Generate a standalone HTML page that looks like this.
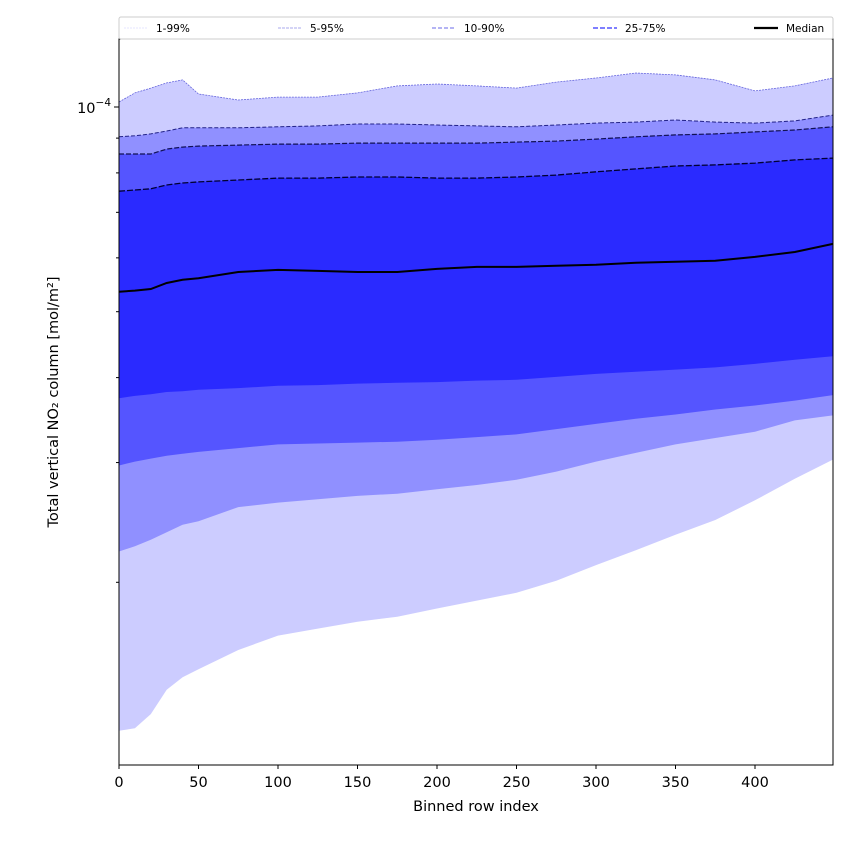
<!DOCTYPE html>
<html><head><meta charset="utf-8"><style>
body{margin:0;background:#fff;font-family:"Liberation Sans","DejaVu Sans",sans-serif}
svg text{font-family:"DejaVu Sans","Liberation Sans",sans-serif}
</style></head><body>
<svg id="chart" width="850" height="850" viewBox="0 0 850 850" xmlns="http://www.w3.org/2000/svg">
<rect width="850" height="850" fill="#fff"/>
<g id="bands"></g>
<g id="lines"></g>
<g id="axes"></g>
<g id="legend"></g>
</svg>
<script>
const rows=[0,10,20,30,40,50,75,100,125,150,175,200,225,250,275,300,325,350,375,400,425,449];
// values in units of 1e-5 mol/m2
const p99=[10.17,10.49,10.66,10.85,10.96,10.45,10.24,10.34,10.34,10.49,10.74,10.81,10.74,10.66,10.88,11.03,11.22,11.15,10.96,10.56,10.74,11.03];
const p95=[9.04,9.07,9.13,9.22,9.32,9.32,9.32,9.35,9.38,9.44,9.44,9.41,9.38,9.35,9.41,9.47,9.50,9.57,9.50,9.47,9.54,9.73];
const p90=[8.53,8.53,8.53,8.67,8.73,8.76,8.79,8.82,8.82,8.85,8.85,8.85,8.85,8.88,8.91,8.97,9.04,9.10,9.13,9.19,9.25,9.35];
const p75=[7.52,7.55,7.58,7.68,7.73,7.76,7.81,7.86,7.86,7.89,7.89,7.86,7.86,7.89,7.94,8.03,8.11,8.19,8.22,8.27,8.36,8.41];
const median=[5.35,5.37,5.40,5.51,5.57,5.60,5.72,5.76,5.74,5.72,5.72,5.78,5.82,5.82,5.84,5.86,5.90,5.92,5.94,6.02,6.12,6.29];
const p25=[3.73,3.76,3.78,3.81,3.82,3.84,3.86,3.89,3.90,3.92,3.93,3.94,3.96,3.97,4.01,4.05,4.08,4.11,4.14,4.19,4.25,4.30];
const p10=[2.97,3.01,3.04,3.07,3.09,3.11,3.15,3.19,3.20,3.21,3.22,3.24,3.27,3.30,3.36,3.42,3.48,3.53,3.59,3.64,3.70,3.77];
const p5=[2.22,2.26,2.31,2.37,2.43,2.46,2.58,2.62,2.65,2.68,2.70,2.74,2.78,2.83,2.91,3.01,3.10,3.19,3.26,3.33,3.46,3.52];
const p1=[1.21,1.22,1.28,1.39,1.45,1.49,1.59,1.67,1.71,1.75,1.78,1.83,1.88,1.93,2.01,2.12,2.23,2.35,2.47,2.64,2.84,3.03];
const xTicks=[0,50,100,150,200,250,300,350,400];
const yMinor=[2,3,4,5,6,7,8,9];

const NS="http://www.w3.org/2000/svg";
const L=119,R=833,T=39,B=765;
const xs=v=>L+(v-0)*(755-119)/400;
const ys=v=>107-Math.log10(v/10)*680;
function mk(tag,attrs,parent){const e=document.createElementNS(NS,tag);for(const k in attrs)e.setAttribute(k,attrs[k]);parent.appendChild(e);return e;}
const bands=document.getElementById('bands'),lines=document.getElementById('lines'),axes=document.getElementById('axes'),legend=document.getElementById('legend');
function pts(a){return rows.map((r,i)=>xs(r).toFixed(1)+','+ys(a[i]).toFixed(1));}
function band(up,lo,fill,name){
  const p=pts(up).concat(pts(lo).reverse()).join(' ');
  const e=mk('polygon',{points:p,fill:fill},bands);
  
  
}
band(p99,p1,'#ccccff','band-1-99');
band(p95,p5,'#9090ff','band-5-95');
band(p90,p10,'#5555ff','band-10-90');
band(p75,p25,'#2a2aff','band-25-75');
function line(a,stroke,w,dash,name){
  const e=mk('polyline',{points:pts(a).join(' '),fill:'none',stroke:stroke,'stroke-width':w,'stroke-dasharray':dash},lines);
  
  
}
line(p99,'#6666dd',0.8,'2,1','line-p99');
line(p95,'#222288',1,'4,2','line-p95');
line(p90,'#111155',1.2,'5,2','line-p90');
line(p75,'#000033',1.3,'6,2','line-p75');
line(median,'#000',2,'','line-median');
// frame
const fr=mk('rect',{x:L,y:T,width:R-L,height:B-T,fill:'none',stroke:'#000','stroke-width':1},axes);


xTicks.forEach(t=>{
  const x=xs(t);
  const tk=mk('line',{x1:x,x2:x,y1:B,y2:B+4,stroke:'#000'},axes);
  
  
  const tx=mk('text',{x:x,y:B+22,'text-anchor':'middle','font-size':14.5},axes);
  tx.textContent=t;
  
  
});
yMinor.forEach(m=>{
  const y=ys(m);
  const tk=mk('line',{x1:L-3,x2:L,y1:y,y2:y,stroke:'#000'},axes);
  
  
});
const mj=mk('line',{x1:L-5,x2:L,y1:ys(10),y2:ys(10),stroke:'#000'},axes);


const yl=mk('text',{x:L-8,y:ys(10)+6,'text-anchor':'end','font-size':14.5},axes);
yl.innerHTML='10<tspan dy="-7" font-size="10.5">−4</tspan>';


const xt=mk('text',{x:(L+R)/2,y:811,'text-anchor':'middle','font-size':14.5},axes);
xt.textContent='Binned row index';


const yt=mk('text',{x:0,y:0,'text-anchor':'middle','font-size':14.5,transform:'translate(58,402) rotate(-90)'},axes);
yt.textContent='Total vertical NO₂ column [mol/m²]';


// legend
const lb=mk('rect',{x:119,y:17,width:714,height:22,fill:'#fff',stroke:'#ccc','stroke-width':1,rx:2},legend);


const leg=[['1-99%',124,'#ddddff',0.8,'2,1'],['5-95%',278,'#aaaaee',1,'3,1'],['10-90%',432,'#8888ee',1.2,'4,2'],['25-75%',593,'#5555ff',1.5,'5,2'],['Median',754,'#000',2.2,'']];
leg.forEach(d=>{
  const g=mk('g',{},legend);
  
  
  mk('line',{x1:d[1],x2:d[1]+24,y1:28,y2:28,stroke:d[2],'stroke-width':d[3],'stroke-dasharray':d[4]},g);
  const t=mk('text',{x:d[1]+32,y:32,'font-size':10.5},g);
  t.textContent=d[0];
});
</script>
</body></html>
